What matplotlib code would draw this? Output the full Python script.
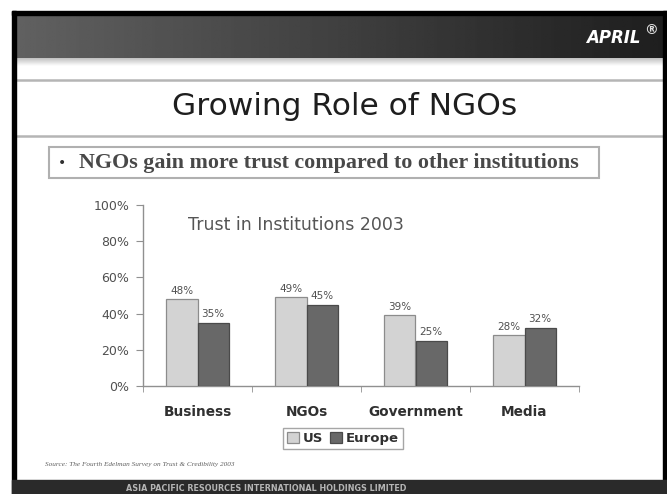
import matplotlib
matplotlib.use("Agg")
import matplotlib.pyplot as plt
import numpy as np
from matplotlib.patches import Rectangle

# ---- data ----
categories = ["Business", "NGOs", "Government", "Media"]
us_values = [48, 49, 39, 28]
europe_values = [35, 45, 25, 32]
series_names = ["US", "Europe"]
y_ticks = [0, 20, 40, 60, 80, 100]
y_tick_labels = ["0%", "20%", "40%", "60%", "80%", "100%"]

W, H = 667, 494
fig = plt.figure(figsize=(W / 100, H / 100), dpi=100)
fig.patch.set_facecolor("white")

# ---- background / slide decoration in pixel coords ----
bg = fig.add_axes([0, 0, 1, 1])
bg.set_xlim(0, W)
bg.set_ylim(H, 0)
bg.axis("off")

# header gradient
grad = np.linspace(0.38, 0.12, 256)[None, :]
grad = np.repeat(grad, 10, axis=0)
bg.imshow(grad, cmap="gray", vmin=0, vmax=1, extent=[14, 664, 58, 14],
          aspect="auto", zorder=1)
# light band below header
band = np.linspace(0.75, 1.0, 32)[:, None]
band = np.repeat(band, 10, axis=1)
bg.imshow(band, cmap="gray", vmin=0, vmax=1, extent=[16, 664, 66, 58],
          aspect="auto", zorder=1)
# frame lines
bg.add_patch(Rectangle((12, 11), 655, 4, color="black", zorder=3))
bg.add_patch(Rectangle((12, 11), 4, 483, color="black", zorder=3))
bg.add_patch(Rectangle((663, 11), 4, 483, color="black", zorder=3))
# footer
bg.add_patch(Rectangle((12, 480), 655, 14, color="#2a2a2a", zorder=3))
bg.text(266, 488, "ASIA PACIFIC RESOURCES INTERNATIONAL HOLDINGS LIMITED",
        ha="center", va="center", fontsize=5.8, color="#b5b5b5",
        fontweight="bold", zorder=4, family="DejaVu Sans")

# logo
bg.text(641, 38, "APRIL", ha="right", va="center", fontsize=12,
        fontweight="bold", style="italic", color="white", zorder=4,
        family="DejaVu Sans")
bg.text(651, 30, "®", ha="center", va="center", fontsize=10,
        color="#e0e0e0", zorder=4, fontweight="bold")

# title lines
for yy in (80, 136):
    bg.plot([16, 663], [yy, yy], color="#b5b5b5", lw=1.8, zorder=2)
bg.text(345, 115, "Growing Role of NGOs", ha="center", va="baseline",
        fontsize=22.5, color="#1e1e1e", family="DejaVu Sans", zorder=4)

# subtitle box
bg.add_patch(Rectangle((49, 147), 550, 31, facecolor="white",
                       edgecolor="#b0b0b0", lw=1.5, zorder=2))
bg.text(62, 162.5, "•", ha="center", va="center", fontsize=10,
        color="#303030", zorder=4)
bg.text(79, 162.5, "NGOs gain more trust compared to other institutions",
        ha="left", va="center", fontsize=15.8, color="#484848",
        family="Liberation Serif", fontweight="bold", zorder=4)

# source
bg.text(45, 464, "Source: The Fourth Edelman Survey on Trust & Credibility 2003",
        ha="left", va="center", fontsize=5.2, style="italic",
        color="#606060", family="Liberation Serif", zorder=4)

# ---- chart ----
ax = fig.add_axes([143 / W, (H - 386) / H, 436 / W, 181 / H])
ax.set_facecolor("none")
x = np.arange(len(categories))
bw = 0.285
b1 = ax.bar(x - bw / 2, us_values, bw, color="#d3d3d3", edgecolor="#8c8c8c",
            lw=0.9, label=series_names[0], zorder=3)
b2 = ax.bar(x + bw / 2, europe_values, bw, color="#686868", edgecolor="#4a4a4a",
            lw=0.9, label=series_names[1], zorder=3)
for bars, vals in ((b1, us_values), (b2, europe_values)):
    for r, v in zip(bars, vals):
        ax.text(r.get_x() + r.get_width() / 2, v + 2.0, f"{v}%",
                ha="center", va="bottom", fontsize=7.5, color="#505050")

ax.set_xlim(-0.5, len(categories) - 0.5)
ax.set_ylim(0, 100)
ax.set_yticks(y_ticks)
ax.set_yticklabels(y_tick_labels, fontsize=9, color="#505050")
ax.set_xticks(x)
ax.set_xticklabels(categories, fontsize=9.8, fontweight="bold", color="#303030")
ax.tick_params(axis="x", length=0, pad=14)
ax.set_xticks(np.arange(-0.5, len(categories), 1.0), minor=True)
ax.tick_params(axis="x", which="minor", length=4, color="#909090", direction="out")
ax.tick_params(axis="y", length=5, color="#909090", pad=5)
for s in ("top", "right"):
    ax.spines[s].set_visible(False)
for s in ("left", "bottom"):
    ax.spines[s].set_color("#909090")
    ax.spines[s].set_linewidth(1.0)

ax.text((296 - 143) / 436, (386 - 225) / 181, "Trust in Institutions 2003",
        transform=ax.transAxes, ha="center", va="center", fontsize=12.5,
        color="#555555")

leg = fig.legend(handles=[b1, b2], labels=series_names, loc="center",
                 bbox_to_anchor=(343 / W, (H - 438.5) / H), ncol=2,
                 frameon=True, fancybox=False, handlelength=0.9,
                 handleheight=0.9, handletextpad=0.3, columnspacing=0.5,
                 borderpad=0.3, prop={"weight": "bold", "size": 9.5})
leg.get_frame().set_edgecolor("#909090")
leg.get_frame().set_linewidth(1.0)
for t in leg.get_texts():
    t.set_color("#303030")

fig.savefig("out.png", dpi=100)
